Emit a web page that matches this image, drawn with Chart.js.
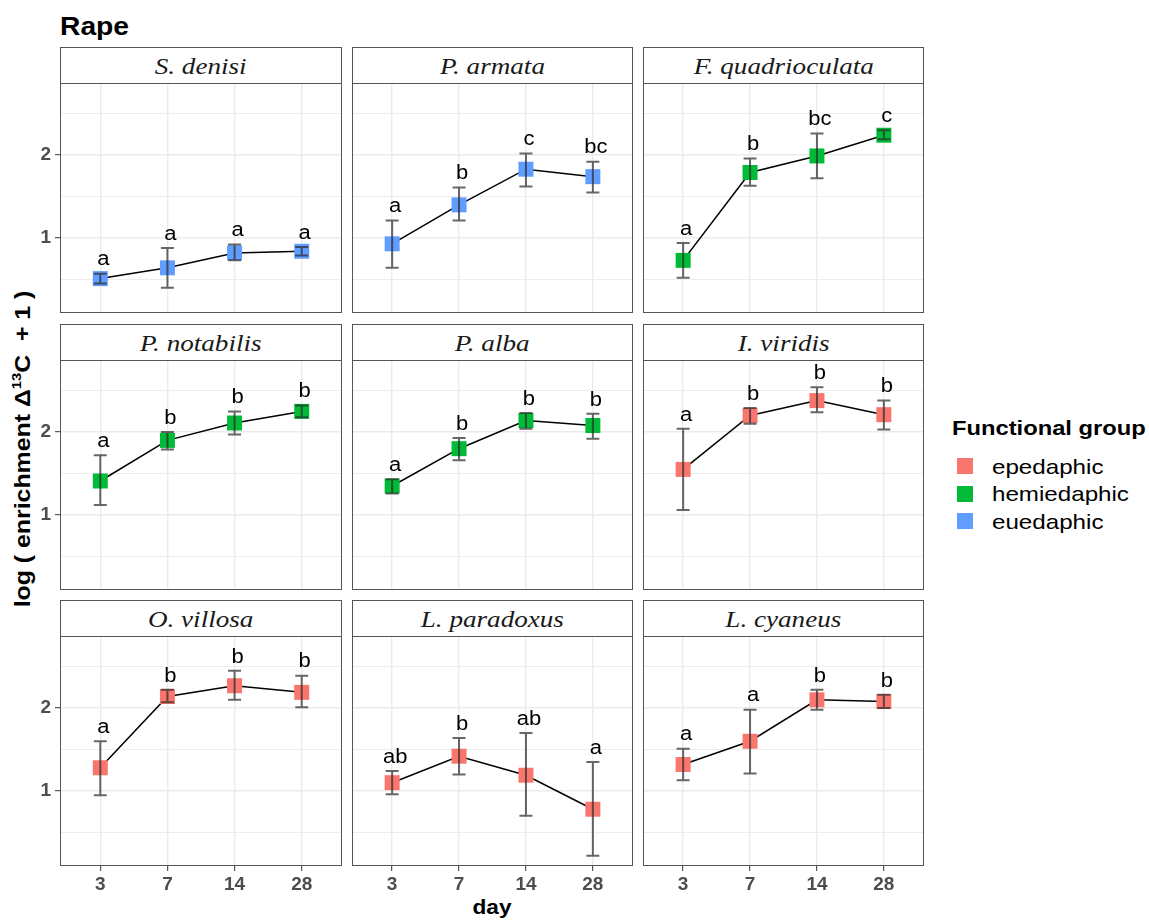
<!DOCTYPE html>
<html><head><meta charset="utf-8">
<script src="https://cdn.jsdelivr.net/npm/chart.js@4.4.0/dist/chart.umd.min.js"></script>
<style>
html,body{margin:0;padding:0;background:#fff;}
body{width:1149px;height:920px;position:relative;overflow:hidden;font-family:"Liberation Sans",Arial,sans-serif;}
.strip{position:absolute;box-sizing:border-box;border:1px solid #555;background:#fff;font-family:"Liberation Serif","Times New Roman",serif;font-style:italic;font-size:24px;color:#1a1a1a;display:flex;align-items:center;justify-content:center;line-height:1;}
.strip span{display:inline-block;transform:scaleX(1.13);}
canvas{position:absolute;}
.abs{position:absolute;line-height:1;white-space:nowrap;}
.key{position:absolute;width:16px;height:16px;}
</style>
</head><body>
<div class="abs" style="left:60px;top:14px;font-size:25px;font-weight:bold;color:#000;transform:scaleX(1.13);transform-origin:0 0;">Rape</div>
<div class="abs" id="ytitle" style="font-size:22px;font-weight:bold;color:#000;left:22px;top:449px;transform:translate(-50%,-50%) rotate(-90deg) scaleX(1.13);">log ( enrichment Δ<sup style="font-size:13px;">13</sup>C &nbsp;+ 1 )</div>
<div class="abs" style="left:492px;top:897px;font-size:20px;font-weight:bold;color:#000;transform:translateX(-50%) scaleX(1.13);">day</div>
<div id="legend"></div>
<script>
// ---------- data ----------
const days = ['3', '7', '14', '28'];
const species = ['S. denisi', 'P. armata', 'F. quadrioculata', 'P. notabilis', 'P. alba', 'I. viridis', 'O. villosa', 'L. paradoxus', 'L. cyaneus'];
const groups = ['euedaphic', 'euedaphic', 'hemiedaphic', 'hemiedaphic', 'hemiedaphic', 'epedaphic', 'epedaphic', 'epedaphic', 'epedaphic'];
const groupNames = ['epedaphic', 'hemiedaphic', 'euedaphic'];
const groupColors = ['#F8766D', '#00BA38', '#619CFF'];
const means = [
  [0.51, 0.64, 0.82, 0.84],
  [0.93, 1.40, 1.83, 1.74],
  [0.73, 1.79, 1.99, 2.24],
  [1.41, 1.90, 2.11, 2.25],
  [1.35, 1.80, 2.14, 2.08],
  [1.55, 2.20, 2.38, 2.21],
  [1.28, 2.14, 2.27, 2.19],
  [1.10, 1.42, 1.19, 0.78],
  [1.32, 1.60, 2.10, 2.08]
];
const lower = [
  [0.45, 0.40, 0.73, 0.79],
  [0.64, 1.21, 1.62, 1.55],
  [0.52, 1.63, 1.72, 2.19],
  [1.12, 1.79, 1.97, 2.18],
  [1.26, 1.66, 2.04, 1.92],
  [1.06, 2.10, 2.24, 2.03],
  [0.95, 2.07, 2.10, 2.01],
  [0.96, 1.20, 0.70, 0.22],
  [1.13, 1.21, 1.98, 2.00]
];
const upper = [
  [0.57, 0.88, 0.92, 0.89],
  [1.21, 1.61, 2.02, 1.92],
  [0.94, 1.96, 2.26, 2.30],
  [1.72, 2.00, 2.25, 2.32],
  [1.43, 1.93, 2.23, 2.22],
  [2.04, 2.29, 2.54, 2.38],
  [1.60, 2.22, 2.45, 2.39],
  [1.24, 1.64, 1.70, 1.35],
  [1.51, 1.98, 2.22, 2.16]
];
const letters = [
  ['a', 'a', 'a', 'a'],
  ['a', 'b', 'c', 'bc'],
  ['a', 'b', 'bc', 'c'],
  ['a', 'b', 'b', 'b'],
  ['a', 'b', 'b', 'b'],
  ['a', 'b', 'b', 'b'],
  ['a', 'b', 'b', 'b'],
  ['ab', 'b', 'ab', 'a'],
  ['a', 'a', 'b', 'b']
];
const yTickValues = [0.5, 1, 1.5, 2, 2.5];
const yLimits = [0.095, 2.87];
const xLimits = [0.4, 4.6];

// ---------- layout ----------
const colLefts = [60, 352, 643];
const colWidths = [282, 281, 281];
const stripTops = [47, 324, 600];
const stripH = 36;
const plotH = 230;
const SANS = '"Liberation Sans", Arial, sans-serif';

// legend
(function(){
  const lg = document.getElementById('legend');
  let html = '<div class="abs" style="left:952px;top:417px;font-size:21px;font-weight:bold;color:#000;transform:scaleX(1.13);transform-origin:0 0;">Functional group</div>';
  groupNames.forEach((g, i) => {
    const cy = 466 + i * 27.5;
    html += `<div class="key" style="left:957px;top:${cy - 8}px;background:${groupColors[i]};"></div>`;
    html += `<div class="abs" style="left:992px;top:${cy - 10.5}px;font-size:21px;color:#000;transform:scaleX(1.15);transform-origin:0 0;">${g}</div>`;
  });
  lg.innerHTML = html;
})();

const decor = {
  id: 'decor',
  afterDatasetsDraw(chart, args, opts) {
    const k = opts.idx;
    const ctx = chart.ctx;
    const xs = chart.scales.x, ys = chart.scales.y;
    ctx.save();
    // error bars
    ctx.strokeStyle = 'rgba(45,45,45,0.72)';
    ctx.lineWidth = 2;
    for (let i = 0; i < days.length; i++) {
      const px = xs.getPixelForValue(i + 1);
      const pu = ys.getPixelForValue(upper[k][i]);
      const pl = ys.getPixelForValue(lower[k][i]);
      ctx.beginPath();
      ctx.moveTo(px, pu); ctx.lineTo(px, pl);
      ctx.moveTo(px - 6.5, pu); ctx.lineTo(px + 6.5, pu);
      ctx.moveTo(px - 6.5, pl); ctx.lineTo(px + 6.5, pl);
      ctx.stroke();
    }
    // letters
    ctx.fillStyle = '#000';
    ctx.font = '20px ' + SANS;
    ctx.textAlign = 'center';
    ctx.textBaseline = 'alphabetic';
    for (let i = 0; i < days.length; i++) {
      const px = xs.getPixelForValue(i + 1) + 3;
      const py = ys.getPixelForValue(upper[k][i] + 0.1);
      ctx.save();
      ctx.translate(px, py);
      ctx.scale(1.1, 1);
      ctx.fillText(letters[k][i], 0, 0);
      ctx.restore();
    }
    ctx.restore();
  },
  afterDraw(chart) {
    const a = chart.chartArea;
    const ctx = chart.ctx;
    ctx.save();
    ctx.strokeStyle = '#555';
    ctx.lineWidth = 1;
    ctx.strokeRect(a.left + 0.5, a.top + 0.5, a.right - a.left - 1, a.bottom - a.top - 1);
    ctx.restore();
  }
};

species.forEach((name, k) => {
  const row = Math.floor(k / 3), col = k % 3;
  const left = colLefts[col], w = colWidths[col];
  // strip
  const s = document.createElement('div');
  s.className = 'strip';
  s.style.left = left + 'px';
  s.style.top = stripTops[row] + 'px';
  s.style.width = w + 'px';
  s.style.height = (stripH + 1) + 'px';
  const sp = document.createElement('span');
  sp.textContent = name;
  s.appendChild(sp);
  document.body.appendChild(s);

  const yw = col === 0 ? 60 : 0;
  const xh = row === 2 ? 40 : 0;
  const cv = document.createElement('canvas');
  cv.width = w + yw;
  cv.height = plotH + xh;
  cv.style.left = (left - yw) + 'px';
  cv.style.top = (stripTops[row] + stripH) + 'px';
  cv.style.width = cv.width + 'px';
  cv.style.height = cv.height + 'px';
  document.body.appendChild(cv);

  const color = groupColors[groupNames.indexOf(groups[k])];
  new Chart(cv, {
    type: 'scatter',
    data: {
      datasets: [{
        data: means[k].map((v, i) => ({ x: i + 1, y: v })),
        showLine: true,
        borderColor: '#000',
        borderWidth: 1.5,
        pointStyle: 'rect',
        pointRadius: 10.6,
        pointHoverRadius: 10.6,
        pointBackgroundColor: color,
        pointBorderWidth: 0,
        pointBorderColor: color,
        clip: false
      }]
    },
    options: {
      responsive: false,
      animation: false,
      events: [],
      devicePixelRatio: 1,
      layout: { padding: 0, autoPadding: false },
      plugins: { legend: { display: false }, tooltip: { enabled: false }, decor: { idx: k } },
      scales: {
        x: {
          type: 'linear',
          min: xLimits[0], max: xLimits[1],
          afterBuildTicks: (sc) => { sc.ticks = days.map((d, i) => ({ value: i + 1 })); },
          afterFit: (sc) => { sc.height = xh; sc.paddingLeft = 0; sc.paddingRight = 0; sc.paddingTop = 0; sc.paddingBottom = 0; },
          border: { display: false },
          grid: { color: '#ebebeb', lineWidth: 1.4, drawTicks: row === 2, tickLength: 5, tickColor: '#333', tickWidth: 1 },
          ticks: {
            display: row === 2,
            padding: 2,
            color: '#4d4d4d',
            font: { family: SANS, size: 19, weight: 'bold' },
            callback: (v) => days[Math.round(v) - 1] || ''
          }
        },
        y: {
          type: 'linear',
          min: yLimits[0], max: yLimits[1],
          afterBuildTicks: (sc) => { sc.ticks = yTickValues.map(v => ({ value: v })); },
          afterFit: (sc) => { sc.width = yw; sc.paddingTop = 0; sc.paddingBottom = 0; sc.paddingLeft = 0; sc.paddingRight = 0; },
          border: { display: false },
          grid: {
            color: '#ebebeb',
            lineWidth: (c) => (c.tick && c.tick.value % 1 === 0) ? 1.4 : 0.9,
            drawTicks: col === 0,
            tickLength: 5,
            tickWidth: 1,
            tickColor: (c) => (c.tick && c.tick.value % 1 === 0) ? '#333' : 'rgba(0,0,0,0)'
          },
          ticks: {
            display: col === 0,
            padding: 4,
            color: '#4d4d4d',
            font: { family: SANS, size: 19, weight: 'bold' },
            callback: (v) => (v % 1 === 0) ? String(v) : ''
          }
        }
      }
    },
    plugins: [decor]
  });
});
</script>
</body></html>
